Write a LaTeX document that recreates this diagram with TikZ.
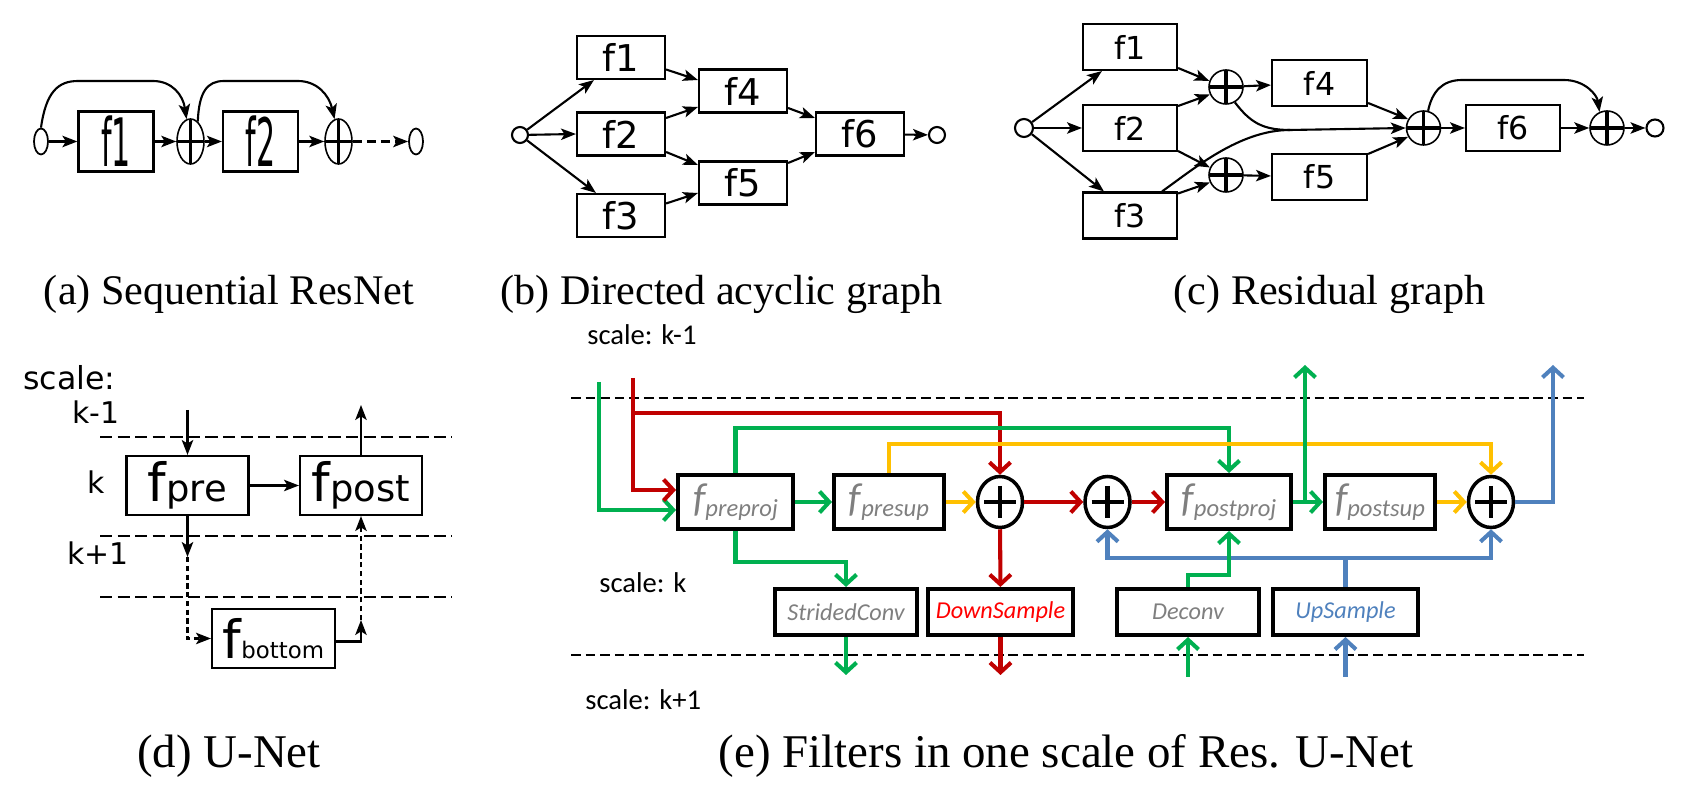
\documentclass[tikz,border=0pt]{standalone}
\usepackage{fontspec}
\setmainfont{Liberation Serif}
\newfontfamily\verdfont{DejaVu Sans}
\newfontfamily\calfont{Carlito}
\usepackage{graphicx}
\usetikzlibrary{arrows.meta, shapes.geometric, calc}
\definecolor{resGreen}{HTML}{00B050}
\definecolor{resRed}{HTML}{C00000}
\definecolor{resYellow}{HTML}{FFC000}
\definecolor{resBlue}{HTML}{4F81BD}
\definecolor{labelGray}{HTML}{7F7F7F}
\definecolor{textRed}{HTML}{FF0000}
\newdimen\pxu \pxu=0.02cm
\newcommand{\seqtext}[1]{\scalebox{0.45}[1]{\fontsize{38}{38}\selectfont #1}}
\newcommand{\unettext}[2]{{\fontsize{30}{30}\selectfont f}{\fontsize{#2}{#2}\selectfont #1}}
\newcommand{\filttext}[1]{{\fontsize{23}{23}\selectfont f}\raisebox{-3pt}{\fontsize{14}{14}\selectfont #1}}

\begin{document}
\begin{tikzpicture}[x=0.02cm, y=-0.02cm,
    arr/.style={line width=1.2pt, -{Stealth[length=8.5pt,width=6.5pt,inset=2pt]}},
    fbox/.style={draw, line width=1.2pt, inner sep=0pt, minimum width=88\pxu, minimum height=43\pxu, font=\verdfont\fontsize{21}{21}\selectfont},
    abox/.style={fbox, line width=1.3pt, minimum width=75\pxu, minimum height=60\pxu, font=\verdfont},
    cbox/.style={fbox, minimum width=94\pxu, minimum height=46\pxu, font=\verdfont\fontsize{18}{18}\selectfont},
    ubox/.style={fbox, minimum width=122\pxu, minimum height=59\pxu, font=\verdfont},
    port/.style={draw, circle, line width=1.2pt, inner sep=0pt, minimum size=16\pxu},
    aport/.style={draw, ellipse, line width=1pt, inner sep=0pt, minimum width=14\pxu, minimum height=26\pxu},
    oplus/.style={draw, ellipse, line width=0.9pt, inner sep=0pt, minimum width=34\pxu, minimum height=34\pxu,
        path picture={\draw[line width=1.8pt] (path picture bounding box.north) -- (path picture bounding box.south)
            (path picture bounding box.west) -- (path picture bounding box.east);}},
    aplus/.style={oplus, minimum width=27\pxu, minimum height=45\pxu},
    eplus/.style={draw, ellipse, line width=2pt, inner sep=0pt, minimum width=45\pxu, minimum height=51\pxu,
        path picture={\draw[line width=2.4pt] ([yshift=16\pxu]path picture bounding box.center) -- ([yshift=-16\pxu]path picture bounding box.center)
            ([xshift=-16\pxu]path picture bounding box.center) -- ([xshift=16\pxu]path picture bounding box.center);}},
    ebox/.style={draw, line width=2.3pt, inner sep=0pt, minimum height=54\pxu, text=labelGray, font=\calfont\itshape},
    sbox/.style={ebox, minimum height=46\pxu, font=\calfont\itshape\fontsize{13.8}{13.8}\selectfont},
    flow/.style={line width=2.3pt, -{Straight Barb[length=5.5pt,width=12pt]}},
    gflow/.style={flow, draw=resGreen},
    rflow/.style={flow, draw=resRed},
    yflow/.style={flow, draw=resYellow},
    bflow/.style={flow, draw=resBlue},
    dline/.style={line width=1.2pt, dash pattern=on 7pt off 3pt},
    ddash/.style={dash pattern=on 3pt off 2pt},
    eline/.style={line width=1pt, dash pattern=on 5.5pt off 2.8pt},
    dtext/.style={font=\verdfont\fontsize{17}{17}\selectfont, anchor=base west, inner sep=0pt},
    etext/.style={font=\calfont\fontsize{16.3}{16.3}\selectfont, anchor=base west, inner sep=0pt},
    capt/.style={font=\fontsize{24}{24}\selectfont, anchor=base, inner sep=0pt},
    bcapt/.style={font=\fontsize{26.7}{26.7}\selectfont, anchor=base, inner sep=0pt}]

    \useasboundingbox (0,0) rectangle (1698,786);

    % (a) sequential ResNet
    \node[aport] (ain) at (41,141.5) {};
    \node[abox] (af1) at (116,141.5) {\seqtext{f1}};
    \node[aplus] (ap1) at (190.5,141.5) {};
    \node[abox] (af2) at (260.5,141.5) {\seqtext{f2}};
    \node[aplus] (ap2) at (338.5,141.5) {};
    \node[aport] (aout) at (416,141.5) {};
    \draw[arr] (ain) -- (af1);
    \draw[arr] (af1) -- (ap1);
    \draw[arr] (ap1) -- (af2);
    \draw[arr] (af2) -- (ap2);
    \draw[arr, dash pattern=on 5pt off 3pt] (ap2) -- (aout);
    \draw[arr] (ain.north) .. controls (46,92) and (58,81) .. (78,81) -- (153,81) .. controls (172,81) and (183,95) .. (ap1.100);
    \draw[arr] (ap1.70) .. controls (199,92) and (207,81) .. (224,81) -- (298,81) .. controls (317,81) and (329,95) .. (ap2.100);
    \node[capt] (capa) at (229,305) {(a) Sequential ResNet};

    % (b) directed acyclic graph
    \node[port] (bin) at (520,135) {};
    \node[fbox] (bf1) at (621,57.5) {f1};
    \node[fbox] (bf2) at (621,134) {f2};
    \node[fbox] (bf3) at (621,215.5) {f3};
    \node[fbox] (bf4) at (743,91) {f4};
    \node[fbox] (bf5) at (743,183) {f5};
    \node[fbox] (bf6) at (860,134) {f6};
    \node[port] (bout) at (937,135) {};
    \draw[arr] (bin) -- ([xshift=18\pxu]bf1.south west);
    \draw[arr] (bin) -- (bf2.west);
    \draw[arr] (bin) -- ([xshift=20\pxu]bf3.north west);
    \draw[arr] ([yshift=-12\pxu]bf1.east) -- ([yshift=11\pxu]bf4.west);
    \draw[arr] ([yshift=16\pxu]bf2.east) -- ([yshift=-16\pxu]bf4.west);
    \draw[arr] ([yshift=-18\pxu]bf2.east) -- ([yshift=18\pxu]bf5.west);
    \draw[arr] ([yshift=12\pxu]bf3.east) -- ([yshift=-10\pxu]bf5.west);
    \draw[arr] ([yshift=-17\pxu]bf4.east) -- ([yshift=16\pxu]bf6.west);
    \draw[arr] ([yshift=20\pxu]bf5.east) -- ([yshift=-18\pxu]bf6.west);
    \draw[arr] (bf6) -- (bout);
    \node[capt] (capb) at (721.5,305) {(b) Directed acyclic graph};

    % (c) residual graph
    \node[port, minimum size=18\pxu] (cin) at (1024,128) {};
    \node[cbox] (cf1) at (1130,47) {f1};
    \node[cbox] (cf2) at (1130,128) {f2};
    \node[cbox] (cf3) at (1130,215.5) {f3};
    \node[oplus] (cpa) at (1226,87) {};
    \node[oplus] (cpb) at (1226,175) {};
    \node[cbox, minimum width=95\pxu] (cf4) at (1319.5,83) {f4};
    \node[cbox, minimum width=95\pxu] (cf5) at (1319.5,177) {f5};
    \node[oplus] (cpc) at (1423.5,128) {};
    \node[cbox] (cf6) at (1513,128) {f6};
    \node[oplus] (cpd) at (1607,128) {};
    \node[port, minimum size=17\pxu] (cout) at (1655,128) {};
    \draw[arr] (cin) -- ([xshift=20\pxu]cf1.south west);
    \draw[arr] (cin) -- (cf2.west);
    \draw[arr] (cin) -- ([xshift=22\pxu]cf3.north west);
    \draw[arr] ([yshift=-21\pxu]cf1.east) -- (cpa.160);
    \draw[arr] ([yshift=22\pxu]cf2.east) -- (cpa.205);
    \draw[arr] ([yshift=-23\pxu]cf2.east) -- (cpb.155);
    \draw[arr] ([yshift=22\pxu]cf3.east) -- (cpb.205);
    \draw[arr] (cpa) -- (cf4);
    \draw[arr] (cpb) -- (cf5);
    \draw[arr] ([yshift=-20\pxu]cf4.east) -- (cpc.150);
    \draw[arr] ([yshift=23\pxu]cf5.east) -- (cpc.210);
    \draw[line width=1.2pt] (cpa.300) .. controls (1250,122) and (1262,130) .. (1290,130);
    \draw[arr] ([xshift=32\pxu]cf3.north) .. controls (1195,168) and (1240,130) .. (1290,130) -- (cpc.west);
    \draw[arr] (cpc) -- (cf6);
    \draw[arr] (cf6) -- (cpd);
    \draw[arr] (cpd) -- (cout);
    \draw[arr] (cpc.75) .. controls (1432,92) and (1442,80) .. (1462,80) -- (1564,80) .. controls (1585,80) and (1597,95) .. (cpd.115);
    \node[capt] (capc) at (1329.5,305) {(c) Residual graph};

    % (d) U-Net
    \foreach \y in {437,536,597}
        \draw[dline] (100,\y) -- (452,\y);
    \node[dtext, font=\verdfont\fontsize{18}{18}\selectfont] (dscale) at (23,390) {scale:};
    \node[dtext] (dk1) at (72,424) {k-1};
    \node[dtext] (dk) at (87,494) {k};
    \node[dtext] (dk2) at (67,565) {k+1};
    \node[ubox] (dpre) at (187.5,485.5) {\unettext{pre}{21}};
    \node[ubox] (dpost) at (361,485.5) {\unettext{post}{21}};
    \node[ubox, minimum width=123\pxu] (dbot) at (273.5,638.5) {\unettext{bottom}{13}};
    \coordinate (dtop) at (187.5,410);
    \coordinate (dup) at (361,405);
    \coordinate (dmid) at (187.5,557);
    \coordinate (drise) at (361,620);
    \draw[arr] (dtop) -- (dpre.north);
    \draw[arr] (dpost.north) -- (dup);
    \draw[arr] (dpre) -- (dpost);
    \draw[arr] (dpre.south) -- (dmid);
    \draw[arr, ddash] (dmid) |- (dbot.west);
    \draw[arr] ([yshift=-3\pxu]dbot.east) -| (drise);
    \draw[arr, ddash] (drise) -- (dpost.south);
    \node[bcapt] (capd) at (229,768) {(d) U-Net};

    % (e) filters in one scale of Res. U-Net
    \foreach \y in {398,655}
        \draw[eline] (571,\y) -- (1584,\y);
    \node[etext] (lk1) at (587,345) {scale: k-1};
    \node[etext] (lk) at (599,593) {scale: k};
    \node[etext] (lk2) at (585,710) {scale: k+1};
    \node[ebox, minimum width=115\pxu] (epre) at (735.5,502) {\filttext{preproj}};
    \node[ebox, minimum width=110\pxu] (epresup) at (889,502) {\filttext{presup}};
    \node[eplus] (eadd1) at (1000,502) {};
    \node[eplus] (eadd2) at (1107.5,502) {};
    \node[ebox, minimum width=124\pxu] (epost) at (1229,502) {\filttext{postproj}};
    \node[ebox, minimum width=110\pxu] (epostsup) at (1380,502) {\filttext{postsup}};
    \node[eplus] (eadd3) at (1491,502) {};
    \node[sbox, minimum width=142\pxu] (estrided) at (846,612) {StridedConv};
    \node[sbox, minimum width=145\pxu, text=textRed] (edown) at (1000.5,612) {DownSample};
    \node[sbox, minimum width=142\pxu] (edeconv) at (1188,612) {Deconv};
    \node[sbox, minimum width=145\pxu, text=resBlue] (eup) at (1345.5,612) {UpSample};
    \coordinate (gin) at (599,382);
    \coordinate (rin) at (633,378);
    \coordinate (rsplit) at (633,413);
    \coordinate (gout) at (1305,365);
    \coordinate (bout) at (1553,365);
    \coordinate (gdown) at (846,675);
    \coordinate (rdown) at (1000.5,675);
    \coordinate (gupin) at (1188,677);
    \coordinate (bupin) at (1345.5,677);
    \coordinate (bsplit) at (1345.5,558);
    \draw[gflow] (gin) |- ([yshift=-8\pxu]epre.west);
    \draw[rflow] (rin) |- ([yshift=12\pxu]epre.west);
    \draw[rflow] (rsplit) -| (eadd1.north);
    \draw[gflow] (epre.north) -- ++(0,-45) -| (epost.north);
    \draw[yflow] (epresup.north) -- ++(0,-29) -| (eadd3.north);
    \draw[gflow] (epre) -- (epresup);
    \draw[yflow] (epresup) -- (eadd1);
    \draw[rflow] (eadd1) -- (eadd2);
    \draw[rflow] (eadd2) -- (epost);
    \draw[rflow] (eadd1) -- (edown);
    \draw[rflow] (edown) -- (rdown);
    \draw[gflow] (epre.south) -- ++(0,31) -| (estrided.north);
    \draw[gflow] (estrided) -- (gdown);
    \draw[gflow] (epost) -- (epostsup);
    \draw[gflow] (gout |- epost.east) -- (gout);
    \draw[yflow] (epostsup) -- (eadd3);
    \draw[bflow] (eadd3) -| (bout);
    \draw[bflow] (eup) -- (bsplit) -| (eadd2.south);
    \draw[bflow] (bsplit) -| (eadd3.south);
    \draw[gflow] (edeconv.north) -- ++(0,-12) -| (epost.south);
    \draw[gflow] (gupin) -- (edeconv);
    \draw[bflow] (bupin) -- (eup);
    \node[bcapt] (cape) at (1066,768) {(e) Filters in one scale of Res. U-Net};
\end{tikzpicture}
\end{document}
